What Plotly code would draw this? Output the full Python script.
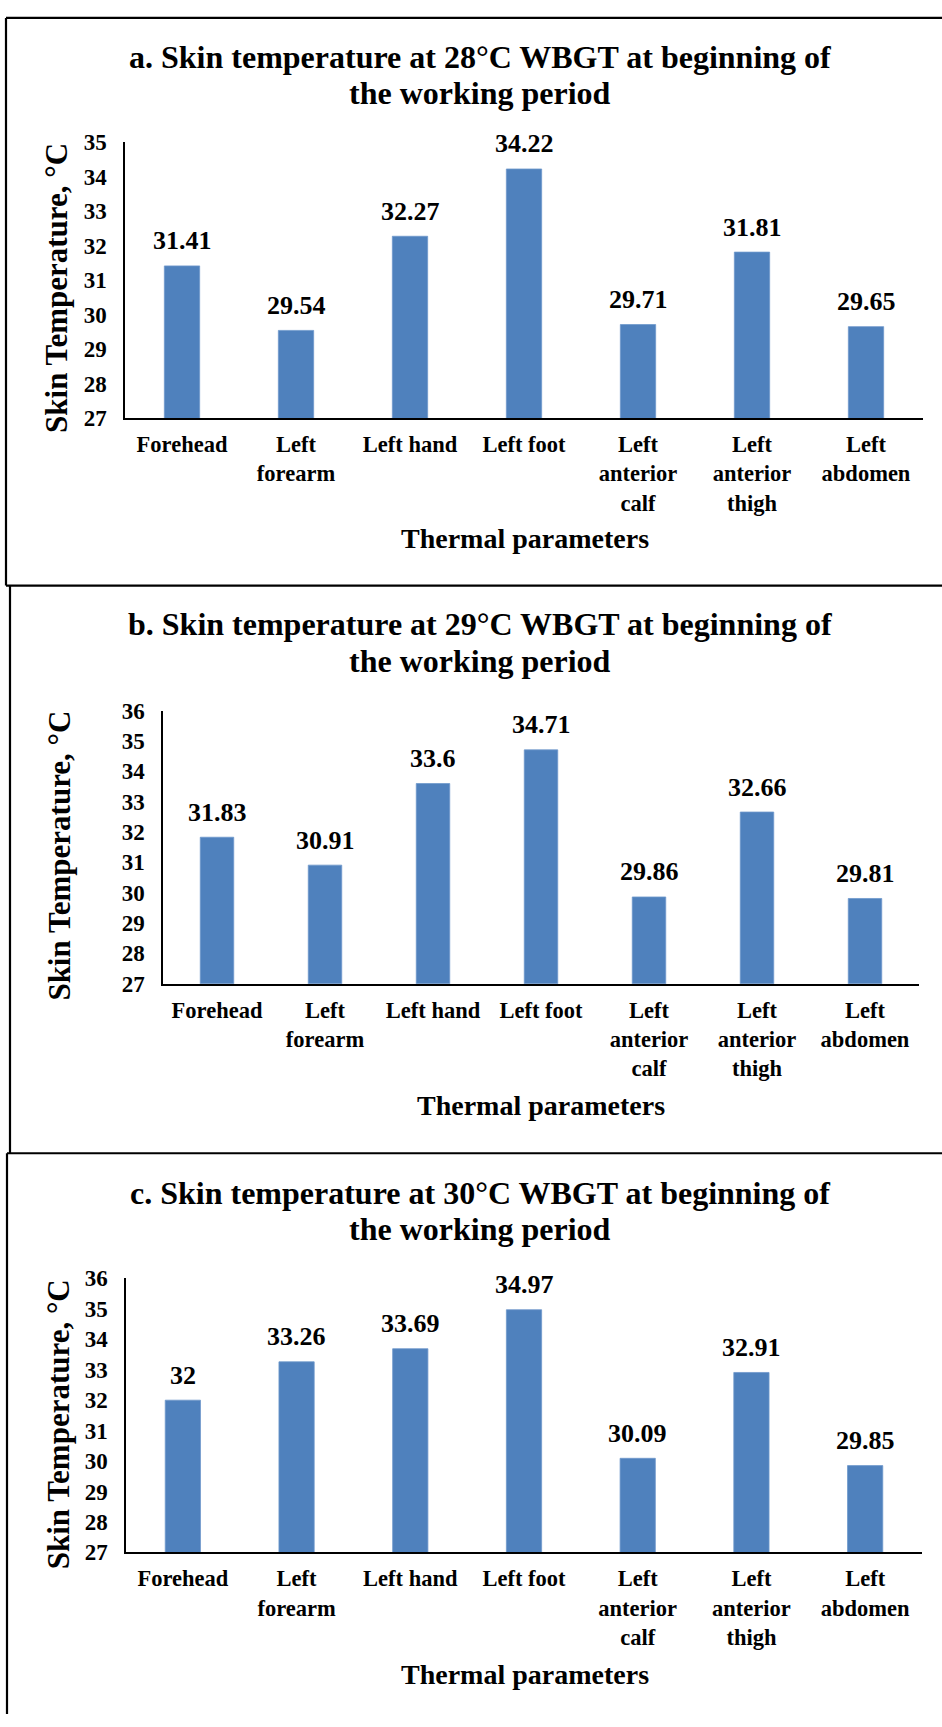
import plotly.graph_objects as go

W, H = 942, 1727

categories = ["Forehead", "Left<br>forearm", "Left hand", "Left foot",
              "Left<br>anterior<br>calf", "Left<br>anterior<br>thigh", "Left<br>abdomen"]
temps_28 = [31.41, 29.54, 32.27, 34.22, 29.71, 31.81, 29.65]
temps_29 = [31.83, 30.91, 33.6, 34.71, 29.86, 32.66, 29.81]
temps_30 = [32, 33.26, 33.69, 34.97, 30.09, 32.91, 29.85]
titles_line1 = ["a. Skin temperature at 28°C WBGT at beginning of",
                "b. Skin temperature at 29°C WBGT at beginning of",
                "c. Skin temperature at 30°C WBGT at beginning of"]
title_line2 = "the working period"
y_title = "Skin Temperature, °C"
x_title = "Thermal parameters"
y_ranges = [(27, 35), (27, 36), (27, 36)]

FONT = "Times New Roman, Liberation Serif, serif"
BAR = "#4F81BD"

# pixel layout per panel: plot x0, x1, y_top, y_bottom, title y1, y2, ytitle x,y, xtitle x,y
panels = [
    dict(x0=125, x1=923, yt=132, yb=412, t1=46, t2=82, ytx=57, yty=280, xtx=525, xty=534),
    dict(x0=163, x1=919, yt=709, yb=986, t1=621, t2=659, ytx=60, yty=856, xtx=541, xty=1110),
    dict(x0=126, x1=922, yt=1285, yb=1563, t1=1198, t2=1235, ytx=58, yty=1433, xtx=525, xty=1687),
]

def px(x):
    return x / W

def py(y):
    return 1 - y / H

fig = go.Figure()
annotations = []
series = [temps_28, temps_29, temps_30]

for i, (p, vals) in enumerate(zip(panels, series)):
    n = "" if i == 0 else str(i + 1)
    xa, ya = "x" + n, "y" + n
    fig.add_trace(go.Bar(x=categories, y=vals, xaxis=xa, yaxis=ya,
                         marker=dict(color=BAR, line=dict(color="#6E98CC", width=0.8)),
                         showlegend=False, hoverinfo="x+y"))
    fig.layout["xaxis" + n] = dict(
        domain=[px(p["x0"]), px(p["x1"])], anchor=ya,
        showline=True, linecolor="black", linewidth=2.2, showgrid=False,
        ticks="", tickfont=dict(family=FONT, size=22.5, color="black", weight="bold"),
        ticklabelstandoff=5, zeroline=False, fixedrange=True)
    fig.layout["yaxis" + n] = dict(
        domain=[py(p["yb"]), py(p["yt"])], anchor=xa, range=list(y_ranges[i]),
        dtick=1, showline=True, linecolor="black", linewidth=1.5, showgrid=False,
        ticks="", tickfont=dict(family=FONT, size=23, color="black", weight="bold"),
        ticklabelstandoff=12, zeroline=False, fixedrange=True)
    # data labels
    for c, v in zip(categories, vals):
        annotations.append(dict(x=c, y=v, xref=xa, yref=ya, text=f"{v:g}",
                                showarrow=False, yanchor="middle", yshift=25,
                                font=dict(family=FONT, size=26, color="black", weight="bold")))
    # titles
    annotations.append(dict(x=px(480), y=py(p["t1"]), xref="paper", yref="paper",
                            text=titles_line1[i], showarrow=False, yanchor="middle",
                            font=dict(family=FONT, size=32, color="black", weight="bold")))
    annotations.append(dict(x=px(480), y=py(p["t2"]), xref="paper", yref="paper",
                            text=title_line2, showarrow=False, yanchor="middle",
                            font=dict(family=FONT, size=32, color="black", weight="bold")))
    annotations.append(dict(x=px(p["ytx"]), y=py(p["yty"]), xref="paper", yref="paper",
                            text=y_title, showarrow=False, textangle=-90,
                            xanchor="center", yanchor="middle",
                            font=dict(family=FONT, size=31, color="black", weight="bold")))
    annotations.append(dict(x=px(p["xtx"]), y=py(p["xty"]), xref="paper", yref="paper",
                            text=x_title, showarrow=False, yanchor="middle",
                            font=dict(family=FONT, size=28, color="black", weight="bold")))

# panel border lines
lw = 2.2
def line(x0, y0, x1, y1):
    return dict(type="line", xref="paper", yref="paper",
                x0=px(x0), y0=py(y0), x1=px(x1), y1=py(y1),
                line=dict(color="black", width=lw))

shapes = [
    line(6, 6, 942, 6), line(6, 6, 6, 582), line(6, 582, 942, 582),
    line(10, 582, 10, 1158), line(7, 1158, 942, 1158),
    line(7, 1158, 7, 1727),
]

fig.update_layout(width=W, height=H, margin=dict(l=0, r=0, t=0, b=0),
                  paper_bgcolor="white", plot_bgcolor="white",
                  bargap=0.69, annotations=annotations, shapes=shapes,
                  font=dict(family=FONT, color="black"))

fig.write_html("out.html")
